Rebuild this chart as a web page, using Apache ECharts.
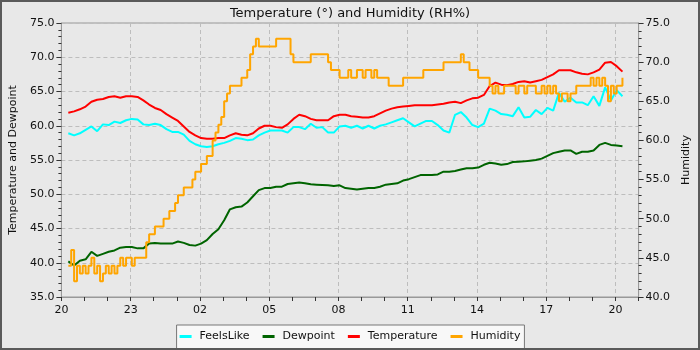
<!DOCTYPE html>
<html>
<head>
<meta charset="utf-8">
<script src="https://cdn.jsdelivr.net/npm/echarts@6/dist/echarts.min.js"></script>
<style>
  html, body { margin: 0; padding: 0; background: #e8e8e8; }
  #chart { width: 700px; height: 350px; }
</style>
</head>
<body>
<div id="chart"></div>
<script>
// Temperature-type readings every 15 minutes, starting shortly after 20:00 (hours since 20:00)
const startHour = 0.3;
const stepHours = 0.25;
// Humidity readings every 7.5 minutes over the same span
const humidityStepHours = 0.125;

const feelsLike = [
  58.9, 58.6, 58.9, 59.4, 59.9, 59.2, 60.2, 60.1, 60.6, 60.4, 60.8, 61.0, 60.9, 60.2, 60.1, 60.3,
  60.1, 59.5, 59.1, 59.1, 58.7, 57.8, 57.3, 57.0, 56.9, 57.0, 57.3, 57.5, 57.8, 58.2, 58.1, 57.9,
  58.0, 58.6, 59.0, 59.3, 59.3, 59.3, 59.0, 59.8, 59.8, 59.5, 60.3, 59.7, 59.8, 59.0, 59.0, 59.9,
  60.0, 59.7, 60.0, 59.6, 60.0, 59.6, 60.0, 60.2, 60.5, 60.8, 61.1, 60.5, 59.9, 60.3, 60.7, 60.7,
  60.1, 59.3, 59.0, 61.6, 62.0, 61.2, 60.1, 59.8, 60.3, 62.5, 62.2, 61.7, 61.6, 61.4, 62.7, 61.2,
  61.3, 62.3, 61.7, 62.6, 62.2, 64.8, 63.5, 64.1, 63.4, 63.4, 63.0, 64.3, 62.9, 65.6, 63.7, 65.2,
  64.3
];

const dewpoint = [
  40.2, 39.6, 40.3, 40.5, 41.6, 41.0, 41.3, 41.6, 41.8, 42.2, 42.3, 42.3, 42.1, 42.1, 42.8, 42.9,
  42.8, 42.8, 42.8, 43.1, 42.9, 42.6, 42.5, 42.8, 43.3, 44.2, 44.9, 46.2, 47.8, 48.1, 48.2, 48.8,
  49.7, 50.6, 50.9, 50.9, 51.1, 51.1, 51.5, 51.6, 51.7, 51.6, 51.45, 51.4, 51.35, 51.3, 51.2, 51.3,
  50.9, 50.8, 50.7, 50.8, 50.9, 50.9, 51.1, 51.4, 51.5, 51.6, 52.0, 52.2, 52.5, 52.8, 52.8, 52.8,
  52.9, 53.3, 53.3, 53.4, 53.6, 53.8, 53.8, 53.9, 54.3, 54.6, 54.5, 54.3, 54.4, 54.7, 54.75, 54.8,
  54.9, 55.0, 55.2, 55.6, 56.0, 56.2, 56.4, 56.4, 55.9, 56.2, 56.2, 56.4, 57.2, 57.5, 57.2, 57.1,
  57.0
];

const temperature = [
  61.9, 62.1, 62.4, 62.8, 63.5, 63.8, 63.9, 64.2, 64.3, 64.1, 64.3, 64.3, 64.2, 63.7, 63.1, 62.6,
  62.3, 61.7, 61.2, 60.7, 59.9, 59.1, 58.6, 58.2, 58.1, 58.1, 58.2, 58.2, 58.6, 58.9, 58.7, 58.6,
  58.9, 59.6, 60.0, 60.0, 59.8, 59.7, 60.2, 61.0, 61.6, 61.4, 61.0, 60.8, 60.8, 60.8, 61.4, 61.6,
  61.6, 61.4, 61.3, 61.2, 61.2, 61.4, 61.8, 62.2, 62.5, 62.7, 62.8, 62.9, 63.0, 63.0, 63.0, 63.0,
  63.1, 63.2, 63.4, 63.5, 63.3, 63.7, 64.0, 64.1, 64.5, 65.8, 66.3, 66.0, 65.9, 66.1, 66.4, 66.5,
  66.3, 66.5, 66.7, 67.1, 67.5, 68.1, 68.1, 68.1, 67.8, 67.6, 67.5, 67.8, 68.2, 69.2, 69.3, 68.7,
  67.9
];

// one row per hour (8 readings each)
const humidity = [
  44, 46, 42, 44, 43, 44, 43, 44,
  45, 43, 44, 42, 43, 44, 43, 44,
  43, 44, 45, 44, 45, 45, 44, 45,
  45, 45, 45, 47, 48, 48, 49, 49,
  49, 50, 50, 51, 51, 52, 53, 53,
  54, 54, 54, 55, 56, 56, 57, 57,
  58, 58, 60, 61, 62, 63, 65, 66,
  67, 67, 67, 67, 68, 68, 69, 71,
  72, 73, 72, 72, 72, 72, 72, 72,
  73, 73, 73, 73, 73, 71, 70, 70,
  70, 70, 70, 70, 71, 71, 71, 71,
  71, 71, 70, 69, 69, 69, 68, 68,
  68, 69, 68, 68, 69, 69, 68, 69,
  69, 68, 69, 68, 68, 68, 68, 67,
  67, 67, 67, 67, 68, 68, 68, 68,
  68, 68, 68, 69, 69, 69, 69, 69,
  69, 69, 70, 70, 70, 70, 70, 70,
  71, 70, 70, 69, 69, 69, 68, 68,
  68, 68, 67, 66, 67, 66, 66, 67,
  67, 67, 67, 66, 67, 67, 66, 67,
  67, 67, 66, 66, 67, 66, 67, 66,
  67, 66, 65, 66, 66, 65, 66, 66,
  67, 67, 67, 67, 67, 68, 67, 68,
  67, 68, 67, 65, 67, 66, 67, 67,
  68
];

const hourTickLabels = ['20', '23', '02', '05', '08', '11', '14', '17', '20'];

const hours = feelsLike.map((_, i) => startHour + i * stepHours);
const humidityHours = humidity.map((_, i) => startHour + i * humidityStepHours);
const pairs = (xs, vals) => vals.map((v, i) => [xs[i], v]);

const FONT = 'DejaVu Sans';
const chart = echarts.init(document.getElementById('chart'), null, { renderer: 'canvas' });

const axisText = { color: '#111', fontFamily: FONT, fontSize: 11 };

chart.setOption({
  backgroundColor: '#e8e8e8',
  animation: false,
  title: {
    text: 'Temperature (°) and Humidity (RH%)',
    left: 'center',
    top: 2,
    textStyle: { color: '#111', fontFamily: FONT, fontSize: 13, fontWeight: 'normal' }
  },
  graphic: [{
    type: 'rect',
    shape: { x: 1, y: 1, width: 698, height: 348 },
    style: { fill: 'none', stroke: '#5a5a5a', lineWidth: 2 },
    silent: true,
    z: 100
  }],
  legend: {
    left: 'center',
    top: 325,
    data: ['FeelsLike', 'Dewpoint', 'Temperature', 'Humidity'],
    icon: 'rect',
    itemWidth: 12,
    itemHeight: 3,
    itemGap: 13,
    padding: [6, 4, 8, 3],
    backgroundColor: '#f8f8f8',
    borderColor: '#777',
    borderWidth: 1,
    textStyle: { color: '#111', fontFamily: FONT, fontSize: 11, padding: [0, 0, 0, 3] }
  },
  grid: { left: 55, right: 60, top: 23, bottom: 53, show: true, borderColor: '#999', borderWidth: 1, backgroundColor: 'transparent' },
  xAxis: {
    type: 'value',
    min: 0,
    max: 25,
    interval: 3,
    axisLine: { show: true, lineStyle: { color: '#999' } },
    axisTick: { show: true, length: 4, lineStyle: { color: '#333' } },
    minorTick: { show: true, splitNumber: 3, length: 4, lineStyle: { color: '#333' } },
    splitLine: { show: true, lineStyle: { color: '#bdbdbd', type: [4, 3] } },
    axisLabel: Object.assign({
      margin: 8,
      showMaxLabel: false,
      formatter: v => hourTickLabels[Math.round(v / 3)] || ''
    }, axisText)
  },
  yAxis: [{
    type: 'value',
    min: 35,
    max: 75,
    interval: 5,
    name: 'Temperature and Dewpoint',
    nameLocation: 'middle',
    nameGap: 38,
    nameTextStyle: { color: '#111', fontFamily: FONT, fontSize: 11 },
    axisLine: { show: true, lineStyle: { color: '#999' } },
    axisTick: { show: true, length: 5, lineStyle: { color: '#333' } },
    minorTick: { show: true, splitNumber: 5, length: 3, lineStyle: { color: '#333' } },
    splitLine: { show: true, lineStyle: { color: '#bdbdbd', type: [4, 3] } },
    axisLabel: Object.assign({ margin: 7, formatter: v => v.toFixed(1) }, axisText)
  }, {
    type: 'value',
    min: 40,
    max: 75,
    interval: 5,
    position: 'right',
    name: 'Humidity',
    nameLocation: 'middle',
    nameGap: 42,
    nameRotate: 90,
    nameTextStyle: { color: '#111', fontFamily: FONT, fontSize: 11 },
    axisLine: { show: true, lineStyle: { color: '#999' } },
    axisTick: { show: true, length: 5, lineStyle: { color: '#333' } },
    minorTick: { show: true, splitNumber: 5, length: 3, lineStyle: { color: '#333' } },
    splitLine: { show: false },
    axisLabel: Object.assign({ margin: 7, formatter: v => v.toFixed(1) }, axisText)
  }],
  series: [
    { name: 'FeelsLike', type: 'line', yAxisIndex: 0, data: pairs(hours, feelsLike), showSymbol: false,
      color: '#00ffff', lineStyle: { width: 2, color: '#00ffff' } },
    { name: 'Dewpoint', type: 'line', yAxisIndex: 0, data: pairs(hours, dewpoint), showSymbol: false,
      color: '#006400', lineStyle: { width: 2, color: '#006400' } },
    { name: 'Temperature', type: 'line', yAxisIndex: 0, data: pairs(hours, temperature), showSymbol: false,
      color: '#ff0000', lineStyle: { width: 2, color: '#ff0000' } },
    { name: 'Humidity', type: 'line', yAxisIndex: 1, data: pairs(humidityHours, humidity), showSymbol: false, step: 'end',
      color: '#ffa500', lineStyle: { width: 2, color: '#ffa500' } }
  ]
});
</script>
</body>
</html>
